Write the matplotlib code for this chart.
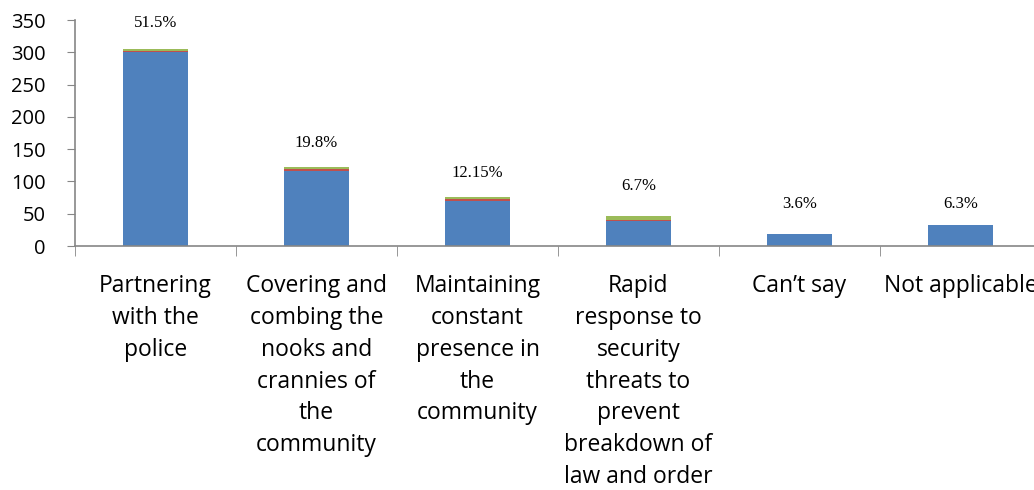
import matplotlib
matplotlib.use("Agg")
import matplotlib.pyplot as plt
import numpy as np

categories = [
    "Partnering\nwith the\npolice",
    "Covering and\ncombing the\nnooks and\ncrannies of\nthe\ncommunity",
    "Maintaining\nconstant\npresence in\nthe\ncommunity",
    "Rapid\nresponse to\nsecurity\nthreats to\nprevent\nbreakdown of\nlaw and order",
    "Can\u2019t say",
    "Not applicable",
]
series_blue = [300, 116, 70, 39, 19, 33]
series_red = [2, 3, 3, 2, 0, 0]
series_green = [3, 3, 3.5, 5, 0, 0]
pct_labels = ["51.5%", "19.8%", "12.15%", "6.7%", "3.6%", "6.3%"]
pct_y = [345, 160, 113, 93, 65, 65]

fig = plt.figure(figsize=(10.34, 4.9), dpi=100)
W, H = 1034, 490
ax = fig.add_axes([75 / W, 1 - 246 / H, 966 / W, (246 - 20) / H])

x = np.arange(len(categories))
bw = 0.4
blue, red, green = "#4F81BD", "#C0504D", "#9BBB59"
ax.bar(x, series_blue, bw, color=blue)
ax.bar(x, series_red, bw, bottom=series_blue, color=red)
bottom2 = np.array(series_blue) + np.array(series_red)
ax.bar(x, series_green, bw, bottom=bottom2, color=green)

for xi, lab, yy in zip(x, pct_labels, pct_y):
    ax.text(xi, yy, lab, ha="center", va="center", fontsize=12,
            family="Liberation Serif", color="black")

ax.set_xlim(-0.5, 5.5)
ax.set_ylim(0, 350)
ax.set_yticks(range(0, 351, 50))
ax.set_yticklabels([str(v) for v in range(0, 351, 50)], fontsize=14.5, family="Open Sans")
ax.set_xticks(x)
ax.set_xticklabels(categories, fontsize=16.5, family="Open Sans", linespacing=1.44)
ax.tick_params(axis="x", length=0, pad=20)
ax.set_xticks(np.arange(-0.5, 6.0, 1.0), minor=True)
ax.tick_params(axis="x", which="minor", length=7.2, color="#868686", direction="out")
ax.tick_params(axis="y", length=5.8, color="#868686", direction="out", pad=15.5)

for s in ["top", "right"]:
    ax.spines[s].set_visible(False)
for s in ["left", "bottom"]:
    ax.spines[s].set_color("#868686")
    ax.spines[s].set_linewidth(1.2)

fig.savefig("out.png", dpi=100)
